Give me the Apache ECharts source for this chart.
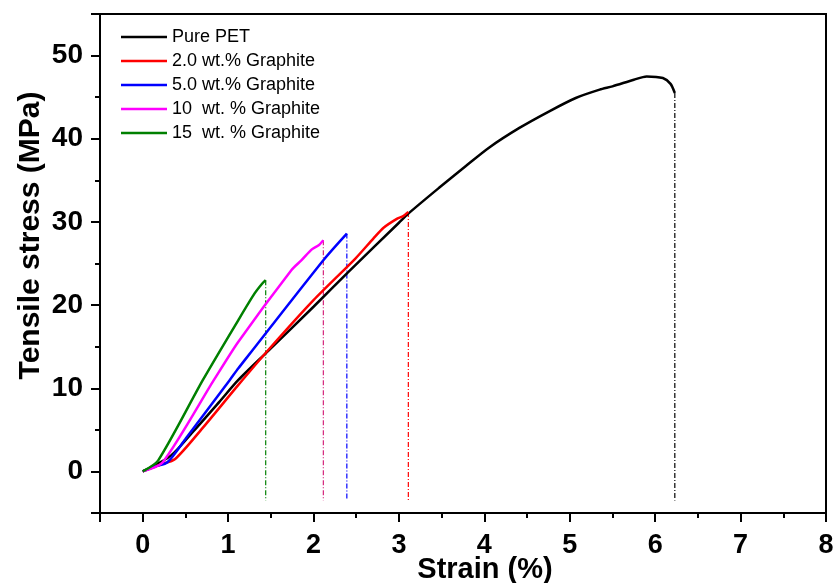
<!DOCTYPE html>
<html>
<head>
<meta charset="utf-8">
<script src="https://cdn.jsdelivr.net/npm/echarts@6/dist/echarts.min.js"></script>
<style>
  html, body { margin: 0; padding: 0; background: #fff; }
  #chart { width: 834px; height: 583px; }
</style>
</head>
<body>
<div id="chart"></div>
<script>
// strain (%) / tensile stress (MPa)
var petStrain = [0, 0.33, 0.6, 0.9, 1.12, 1.47, 2.0, 2.4, 3.0, 3.11, 3.47, 3.78, 4.05, 4.41, 4.76, 5.07, 5.35, 5.5, 5.75, 5.9, 6.09, 6.18, 6.23];
var petStress = [0, 1.9, 4.9, 8.4, 11.0, 14.5, 19.8, 23.9, 29.9, 31.0, 34.1, 36.7, 38.9, 41.3, 43.3, 44.9, 45.9, 46.3, 47.1, 47.5, 47.3, 46.6, 45.5];

var g2Strain = [0, 0.2, 0.38, 0.7, 1.12, 1.47, 2.0, 2.49, 2.7, 2.82, 2.98, 3.05, 3.11];
var g2Stress = [0, 0.8, 1.5, 5.2, 10.4, 14.6, 20.6, 25.6, 28.0, 29.3, 30.4, 30.7, 31.2];

var g5Strain = [0, 0.15, 0.29, 0.5, 1.02, 1.12, 2.115, 2.39];
var g5Stress = [0, 0.6, 1.1, 3.9, 11.0, 12.4, 25.4, 28.6];

var g10Strain = [0, 0.235, 0.834, 1.12, 1.74, 1.86, 1.98, 2.06, 2.115];
var g10Stress = [0, 1.1, 11.0, 15.6, 24.2, 25.4, 26.7, 27.2, 27.8];

var g15Strain = [0, 0.18, 0.705, 1.12, 1.31, 1.4, 1.44];
var g15Stress = [0, 1.3, 11.0, 18.2, 21.4, 22.6, 23.0];

var names = ['Pure PET', '2.0 wt.% Graphite', '5.0 wt.% Graphite', '10  wt. % Graphite', '15  wt. % Graphite'];
var colors = ['#000000', '#ff0000', '#0000ff', '#ff00ff', '#008000'];
var dropColors = ['#000000', '#ff0000', '#0000ff', '#d4237a', '#008000'];
var dropBottom = -3.5;

var curves = [
  [petStrain, petStress],
  [g2Strain, g2Stress],
  [g5Strain, g5Stress],
  [g10Strain, g10Stress],
  [g15Strain, g15Stress]
];

function zip(xs, ys) {
  return xs.map(function (x, i) { return [x, ys[i]]; });
}

var series = [];
curves.forEach(function (c, i) {
  var xs = c[0], ys = c[1];
  var last = xs.length - 1;
  // fracture drop line
  series.push({
    name: 'drop' + i,
    type: 'line',
    data: [[xs[last], ys[last]], [xs[last], dropBottom]],
    symbol: 'none',
    lineStyle: { color: dropColors[i], width: 1.2, type: [5, 2, 1, 2] },
    z: 2
  });
  series.push({
    name: names[i],
    type: 'line',
    data: zip(xs, ys),
    symbol: 'none',
    smooth: 0.25,
    color: colors[i],
    lineStyle: { color: colors[i], width: 2.5 },
    z: 3
  });
});

var font = 'Liberation Sans, Arial, sans-serif';

var chart = echarts.init(document.getElementById('chart'));
chart.setOption({
  animation: false,
  backgroundColor: '#fff',
  grid: {
    left: 100, right: 8, top: 14, bottom: 70,
    outerBoundsMode: 'none',
    containLabel: false,
    show: true, borderColor: '#000', borderWidth: 2
  },
  legend: {
    data: names,
    orient: 'vertical',
    left: 116,
    top: 23,
    itemWidth: 46,
    itemHeight: 14,
    itemGap: 6,
    icon: 'path://M0,5.7 L46,5.7 L46,8.3 L0,8.3 Z',
    textStyle: { fontFamily: font, fontSize: 18, color: '#000' }
  },
  xAxis: [
    {
      type: 'value',
      min: -0.5, max: 8, interval: 0.5,
      name: 'Strain (%)',
      nameLocation: 'middle',
      nameGap: 42,
      nameMoveOverlap: false,
      nameTextStyle: { fontFamily: font, fontSize: 29, fontWeight: 'bold', color: '#000', padding: [0, 0, 0, 44] },
      axisLine: { onZero: false, lineStyle: { color: '#000', width: 2 } },
      axisTick: { length: 5, lineStyle: { color: '#000', width: 2 } },
      axisLabel: {
        margin: 19, fontFamily: font, fontSize: 27, fontWeight: 'bold', color: '#000',
        formatter: function (v) { return Number.isInteger(v) ? String(v) : ''; }
      },
      splitLine: { show: false }
    },
    {
      type: 'value',
      position: 'bottom',
      min: -0.5, max: 8, splitNumber: 8,
      axisLine: { show: false, onZero: false },
      axisTick: { length: 9, lineStyle: { color: '#000', width: 2 } },
      axisLabel: { show: false },
      splitLine: { show: false }
    }
  ],
  yAxis: [
    {
      type: 'value',
      position: 'left',
      min: -5, max: 55, interval: 5,
      name: 'Tensile stress (MPa)',
      nameLocation: 'middle',
      nameGap: 54,
      nameMoveOverlap: false,
      nameTextStyle: { fontFamily: font, fontSize: 30, fontWeight: 'bold', color: '#000', padding: [0, 0, 0, 56] },
      axisLine: { onZero: false, lineStyle: { color: '#000', width: 2 } },
      axisTick: { length: 5, lineStyle: { color: '#000', width: 2 } },
      axisLabel: {
        margin: 17, fontFamily: font, fontSize: 28, fontWeight: 'bold', color: '#000',
        formatter: function (v) { return v % 10 === 0 ? String(v) : ''; }
      },
      splitLine: { show: false }
    },
    {
      type: 'value',
      position: 'left',
      min: -5, max: 55, splitNumber: 6,
      axisLine: { show: false, onZero: false },
      axisTick: { length: 9, lineStyle: { color: '#000', width: 2 } },
      axisLabel: { show: false },
      splitLine: { show: false }
    }
  ],
  series: series
});
</script>
</body>
</html>
